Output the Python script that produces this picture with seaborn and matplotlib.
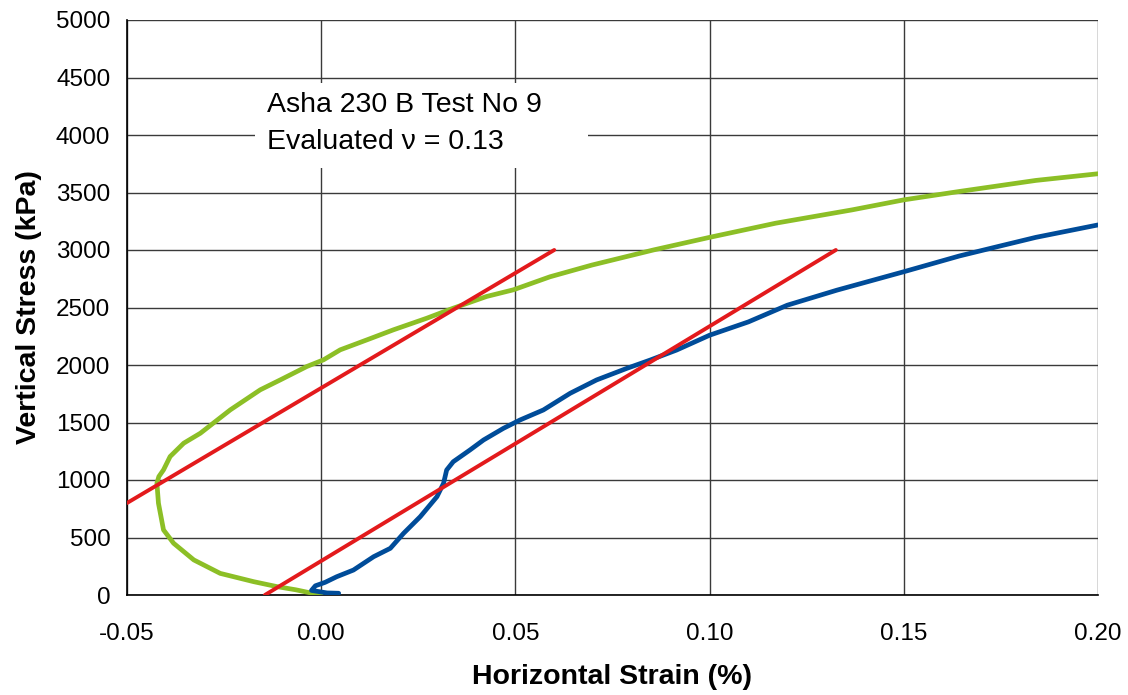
import numpy as np
import pandas as pd
import matplotlib
matplotlib.use("Agg")
import matplotlib.pyplot as plt
import seaborn as sns

# ── Data ─────────────────────────────────────────────────────────────────────
green_strain = [0.0, -0.0030, -0.0065, -0.0114, -0.0174, -0.0260, -0.0328, -0.0380,
                -0.0406, -0.0419, -0.0423, -0.0418, -0.0406, -0.0389, -0.0354, -0.0311,
                -0.0234, -0.0157, -0.0105, -0.0037, 0.0006, 0.0049, 0.0118, 0.0186,
                0.0272, 0.0340, 0.0426, 0.0495, 0.0589, 0.0697, 0.0855, 0.1000,
                0.1170, 0.1367, 0.1500, 0.1643, 0.1840, 0.2000]
green_stress = [0, 20, 45, 73, 116, 188, 305, 450,
                566, 798, 972, 1030, 1088, 1204, 1320, 1407,
                1610, 1784, 1871, 1987, 2045, 2132, 2219, 2306,
                2407, 2494, 2596, 2654, 2767, 2869, 3000, 3110,
                3233, 3349, 3436, 3509, 3605, 3663]

blue_strain = [0.0045, 0.0015, -0.0025, -0.0015, 0.0010, 0.0040, 0.0083, 0.0135,
               0.0178, 0.0212, 0.0255, 0.0298, 0.0315, 0.0323, 0.0340, 0.0383,
               0.0418, 0.0469, 0.0512, 0.0572, 0.0641, 0.0709, 0.0787, 0.0847,
               0.0915, 0.1000, 0.1100, 0.1200, 0.1328, 0.1500, 0.1643, 0.1741,
               0.1840, 0.2000]
blue_stress = [15, 18, 40, 80, 110, 159, 217, 333,
               406, 536, 681, 855, 971, 1087, 1159, 1261,
               1348, 1449, 1522, 1609, 1754, 1870, 1971, 2043,
               2130, 2259, 2375, 2520, 2651, 2811, 2948, 3029,
               3110, 3218]

# fitted elastic lines (two end points each)
fit1_strain = [-0.050, 0.060]
fit1_stress = [800, 3000]
fit2_strain = [-0.0145, 0.1325]
fit2_stress = [0, 3000]

x_ticks = [-0.05, 0.00, 0.05, 0.10, 0.15, 0.20]
y_ticks = list(range(0, 5001, 500))

GREEN = "#8cbf26"
BLUE = "#004c99"
RED = "#e31a1c"

# ── Style ────────────────────────────────────────────────────────────────────
sns.set_style("white")
plt.rcParams["font.family"] = ["Liberation Sans", "DejaVu Sans"]
plt.rcParams.update({"text.color": "black", "axes.labelcolor": "black",
                     "xtick.color": "black", "ytick.color": "black"})

fig = plt.figure(figsize=(11.28, 6.95), dpi=100)
ax = fig.add_axes([127 / 1128, 1 - 595 / 695, 971 / 1128, 575 / 695])

green = pd.DataFrame({"strain": green_strain, "stress": green_stress})
blue = pd.DataFrame({"strain": blue_strain, "stress": blue_stress})

sns.lineplot(data=green, x="strain", y="stress", sort=False, estimator=None,
             color=GREEN, lw=3.4, ax=ax, zorder=3)
sns.lineplot(data=blue, x="strain", y="stress", sort=False, estimator=None,
             color=BLUE, lw=3.4, ax=ax, zorder=3)
sns.lineplot(x=fit1_strain, y=fit1_stress, sort=False, estimator=None,
             color=RED, lw=2.8, ax=ax, zorder=4)
sns.lineplot(x=fit2_strain, y=fit2_stress, sort=False, estimator=None,
             color=RED, lw=2.8, ax=ax, zorder=4)

ax.set_xlim(-0.05, 0.20)
ax.set_ylim(0, 5000)
ax.set_xticks(x_ticks)
ax.set_xticklabels([f"{v:.2f}" for v in x_ticks])
ax.set_yticks(y_ticks)
ax.grid(True, color="#3a3a3a", lw=1.0, zorder=1)
ax.set_axisbelow(True)

for side in ["top", "right"]:
    ax.spines[side].set_visible(False)
for side in ["left", "bottom"]:
    ax.spines[side].set_color("black")
    ax.spines[side].set_linewidth(1.2)

ax.tick_params(axis="both", which="major", labelsize=17.5, color="black",
               labelcolor="black", direction="out", length=6, width=1)
ax.tick_params(axis="x", pad=14)
ax.tick_params(axis="y", pad=6)

ax.set_xlabel("Horizontal Strain (%)", fontsize=20.5, fontweight="bold",
              labelpad=14, color="black")
ax.set_ylabel("Vertical Stress (kPa)", fontsize=20.5, fontweight="bold",
              labelpad=10, color="black")

# annotation box (white, no border, hides the grid behind it)
box = plt.Rectangle((0.1318, 0.7426), 0.343, 0.1478, transform=ax.transAxes,
                    facecolor="white", edgecolor="none", zorder=2)
ax.add_patch(box)
ax.text(0.1442, 0.8530, "Asha 230 B Test No 9", transform=ax.transAxes,
        fontsize=20.5, va="center", ha="left", color="black", zorder=5)
ax.text(0.1442, 0.7870, "Evaluated \u03bd = 0.13", transform=ax.transAxes,
        fontsize=20.5, va="center", ha="left", color="black", zorder=5)

fig.savefig("out.png", dpi=100)
